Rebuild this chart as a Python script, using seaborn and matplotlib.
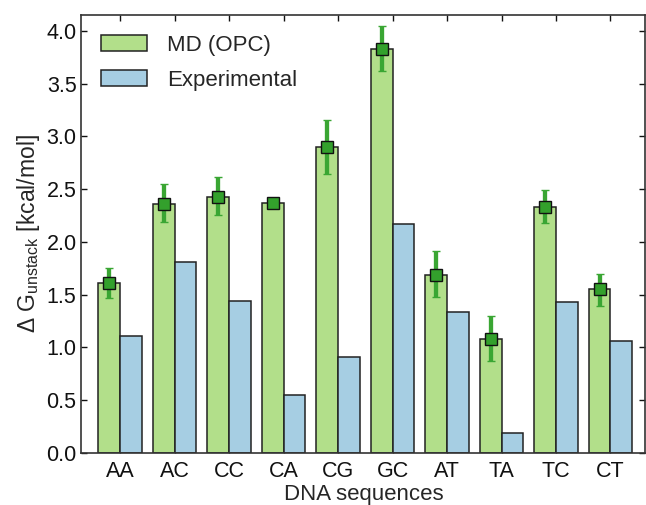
import numpy as np
import pandas as pd
import matplotlib
matplotlib.use("Agg")
import matplotlib.pyplot as plt
import seaborn as sns

# --- data ---
sequences = ['AA', 'AC', 'CC', 'CA', 'CG', 'GC', 'AT', 'TA', 'TC', 'CT']
md_opc = [1.61, 2.36, 2.43, 2.37, 2.90, 3.83, 1.69, 1.08, 2.33, 1.55]
md_err_low = [1.47, 2.19, 2.26, 2.34, 2.64, 3.62, 1.48, 0.87, 2.18, 1.39]
md_err_high = [1.75, 2.55, 2.62, 2.40, 3.16, 4.05, 1.91, 1.30, 2.49, 1.70]
experimental = [1.11, 1.81, 1.44, 0.55, 0.91, 2.17, 1.34, 0.19, 1.43, 1.06]
series = ['MD (OPC)', 'Experimental']

sns.set_style('ticks')
plt.rcParams['font.family'] = ['Liberation Sans', 'DejaVu Sans']
plt.rcParams['mathtext.fontset'] = 'custom'
plt.rcParams['mathtext.rm'] = 'Liberation Sans'

df = pd.DataFrame({
    'seq': sequences * 2,
    'value': md_opc + experimental,
    'series': [series[0]] * len(sequences) + [series[1]] * len(sequences),
})

fig = plt.figure(figsize=(6.46, 5.05), dpi=100)
ax = fig.add_axes([0.126, 0.103, 0.873, 0.867])

sns.barplot(data=df, x='seq', y='value', hue='series', order=sequences,
            hue_order=series, palette=['#b2df8a', '#a6cee3'], saturation=1,
            edgecolor='#222222', linewidth=1.1, width=0.8, ax=ax)

x = np.arange(len(sequences)) - 0.2
md = np.array(md_opc)
yerr = [md - np.array(md_err_low), np.array(md_err_high) - md]
ax.errorbar(x, md, yerr=yerr, fmt='s', color='#33a02c', ecolor='#3aa633',
            elinewidth=3.1, capsize=3, capthick=3, markersize=8,
            markeredgecolor='#111111', markeredgewidth=1.0, zorder=5)

ax.set_xlim(-0.71, 9.64)
ax.set_ylim(0, 4.15)
ax.set_yticks(np.arange(0, 4.01, 0.5))
ax.set_yticklabels([f'{v:.1f}' for v in np.arange(0, 4.01, 0.5)])
ax.tick_params(direction='in', top=True, right=True, labelsize=15.5,
               length=4, width=1, colors='#111111')
ax.tick_params(axis='x', pad=6)
for s in ax.spines.values():
    s.set_visible(True)
    s.set_color('#333333')
    s.set_linewidth(1.2)

ax.set_xlabel('DNA sequences', fontsize=16, labelpad=1)
ax.set_ylabel(r'Δ G$_{\mathrm{unstack}}$ [kcal/mol]', fontsize=16.5, labelpad=3)

ax.legend(frameon=False, loc='upper left', fontsize=16, handlelength=2.07,
          handleheight=0.72, labelspacing=0.62, handletextpad=0.9,
          borderaxespad=0.5)

fig.savefig('out.png', dpi=100)
